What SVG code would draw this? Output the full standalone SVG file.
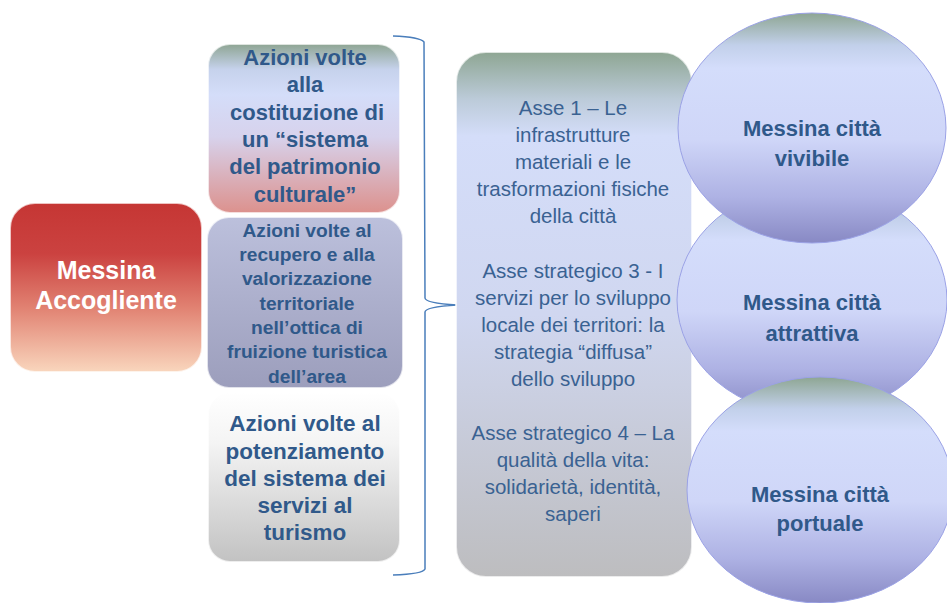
<svg xmlns="http://www.w3.org/2000/svg" width="947" height="603" viewBox="0 0 947 603">
<defs>
<linearGradient id="gRed" x1="0" y1="0" x2="0" y2="1">
<stop offset="0" stop-color="#c53634"/><stop offset="0.3" stop-color="#cb4240"/><stop offset="0.62" stop-color="#e18272"/><stop offset="1" stop-color="#f9d6bd"/>
</linearGradient>
<linearGradient id="gB1" x1="0" y1="0" x2="0" y2="1">
<stop offset="0" stop-color="#8ea593"/><stop offset="0.15" stop-color="#c6d2ec"/><stop offset="0.3" stop-color="#d4ddf9"/><stop offset="0.55" stop-color="#d7d2ec"/><stop offset="1" stop-color="#dc918d"/>
</linearGradient>
<linearGradient id="gB2" x1="0" y1="0" x2="0" y2="1">
<stop offset="0" stop-color="#bcc0dc"/><stop offset="1" stop-color="#9c9ebc"/>
</linearGradient>
<linearGradient id="gB3" x1="0" y1="0" x2="0" y2="1">
<stop offset="0" stop-color="#ffffff"/><stop offset="0.3" stop-color="#f4f4f4"/><stop offset="1" stop-color="#c2c2c2"/>
</linearGradient>
<linearGradient id="gMid" x1="0" y1="0" x2="0" y2="1">
<stop offset="0" stop-color="#8ea693"/><stop offset="0.09" stop-color="#bccbd9"/><stop offset="0.16" stop-color="#d4ddf9"/><stop offset="0.5" stop-color="#d0d7f0"/><stop offset="1" stop-color="#bdbdbf"/>
</linearGradient>
<linearGradient id="gCirc" x1="0" y1="0" x2="0" y2="1">
<stop offset="0" stop-color="#8ea693"/><stop offset="0.14" stop-color="#c2d0ea"/><stop offset="0.24" stop-color="#d4ddfb"/><stop offset="0.55" stop-color="#cfd6f8"/><stop offset="0.8" stop-color="#aeb2e4"/><stop offset="1" stop-color="#8889c4"/>
</linearGradient>
</defs>
<style>
.box{stroke:#ffffff;stroke-opacity:0.7;stroke-width:2}
.circ{fill:url(#gCirc);stroke:#9ba2e6;stroke-width:1}
.tb{font-family:"Liberation Sans",Arial,sans-serif;font-weight:bold;fill:#30598a;text-anchor:middle}
.tr{font-family:"Liberation Sans",Arial,sans-serif;fill:#3a6292;text-anchor:middle;font-size:20.5px}
.tw{font-family:"Liberation Sans",Arial,sans-serif;font-weight:bold;fill:#ffffff;text-anchor:middle;font-size:25px}
.brace{fill:none;stroke:#4a7ebb;stroke-width:1.5}
</style>

<g id="messina-accogliente">
<rect class="box" x="10" y="203" width="192" height="169" rx="25" fill="url(#gRed)"/>
<text class="tw" x="106" y="279">Messina</text>
<text class="tw" x="106" y="309">Accogliente</text>
</g>

<g id="azioni-patrimonio">
<rect class="box" x="208" y="44" width="192" height="169" rx="22" fill="url(#gB1)"/>
<g class="tb" font-size="22px">
<text x="305" y="65">Azioni volte</text>
<text x="305" y="92">alla</text>
<text x="307" y="120">costituzione di</text>
<text x="305" y="147">un “sistema</text>
<text x="305" y="174">del patrimonio</text>
<text x="305" y="202">culturale”</text>
</g>
</g>

<g id="azioni-recupero">
<rect class="box" x="207" y="217" width="196" height="171" rx="22" fill="url(#gB2)"/>
<g class="tb" font-size="19.2px">
<text x="307" y="237">Azioni volte al</text>
<text x="307" y="261">recupero e alla</text>
<text x="307" y="285">valorizzazione</text>
<text x="307" y="310">territoriale</text>
<text x="307" y="334">nell’ottica di</text>
<text x="307" y="358">fruizione turistica</text>
<text x="307" y="383">dell’area</text>
</g>
</g>

<g id="azioni-servizi">
<rect class="box" x="208" y="392" width="192" height="170" rx="22" fill="url(#gB3)"/>
<g class="tb" font-size="22.5px">
<text x="305" y="431">Azioni volte al</text>
<text x="305" y="459">potenziamento</text>
<text x="305" y="486">del sistema dei</text>
<text x="305" y="513">servizi al</text>
<text x="305" y="540">turismo</text>
</g>
</g>

<g id="connectors">
<path class="brace" d="M393,36 Q420,37 424,42 L425,298 Q425,303 457,305 Q425,307 425,312 L425,569 Q423,574 393,575"/>
</g>

<g id="assi">
<rect class="box" x="456" y="52" width="236" height="525" rx="30" fill="url(#gMid)"/>
<text class="tr" x="573" y="115">Asse 1 – Le</text>
<text class="tr" x="573" y="142">infrastrutture</text>
<text class="tr" x="573" y="169">materiali e le</text>
<text class="tr" x="573" y="196">trasformazioni fisiche</text>
<text class="tr" x="573" y="223">della città</text>
<text class="tr" x="573" y="278">Asse strategico 3 -  I</text>
<text class="tr" x="573" y="305">servizi per lo sviluppo</text>
<text class="tr" x="573" y="332">locale dei territori: la</text>
<text class="tr" x="573" y="359">strategia “diffusa”</text>
<text class="tr" x="573" y="386">dello sviluppo</text>
<text class="tr" x="573" y="440">Asse strategico 4 – La</text>
<text class="tr" x="573" y="467">qualità della vita:</text>
<text class="tr" x="573" y="494">solidarietà, identità,</text>
<text class="tr" x="573" y="521">saperi</text>
</g>

<g id="citta-attrattiva">
<ellipse class="circ" cx="812" cy="300" rx="135" ry="115"/>
<text class="tb" font-size="22px" x="812" y="310">Messina città</text>
<text class="tb" font-size="22px" x="812" y="341">attrattiva</text>
</g>

<g id="citta-vivibile">
<ellipse class="circ" cx="812" cy="128" rx="134" ry="115"/>
<text class="tb" font-size="22px" x="812" y="136">Messina città</text>
<text class="tb" font-size="22px" x="812" y="166">vivibile</text>
</g>

<g id="citta-portuale">
<ellipse class="circ" cx="820" cy="490" rx="133" ry="113"/>
<text class="tb" font-size="22px" x="820" y="502">Messina città</text>
<text class="tb" font-size="22px" x="820" y="531">portuale</text>
</g>
</svg>
